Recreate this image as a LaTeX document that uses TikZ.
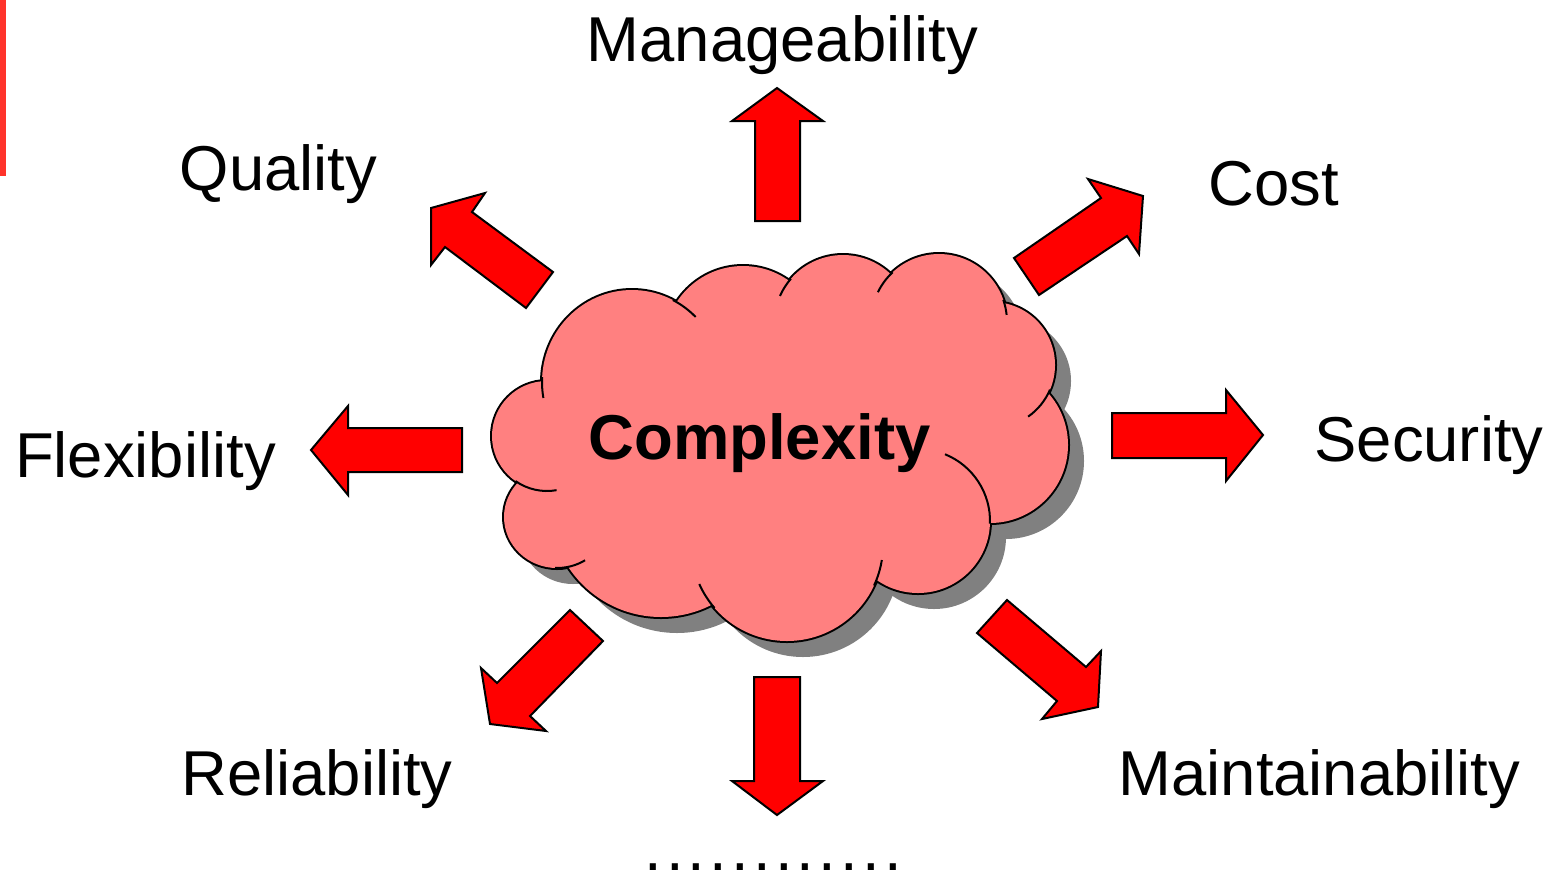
\documentclass[tikz,border=0pt]{standalone}
\usepackage{fontspec}
\setmainfont{Liberation Sans}
\definecolor{arrred}{RGB}{255,0,0}
\definecolor{cloudpink}{RGB}{255,128,128}
\definecolor{shadowgray}{RGB}{128,128,128}
\definecolor{barred}{RGB}{255,51,43}
\newcommand\cloudbumps{%
  (547,436) ellipse [x radius=55, y radius=55]
  (632,382) ellipse [x radius=90, y radius=92]
  (743,345) ellipse [x radius=79, y radius=79]
  (843,324) ellipse [x radius=69, y radius=69]
  (939,322) ellipse [x radius=68, y radius=68]
  (992,365) ellipse [x radius=63, y radius=63]
  (990,445) ellipse [x radius=78, y radius=78]
  (918,521) ellipse [x radius=72, y radius=72]
  (787,545) ellipse [x radius=96, y radius=96]
  (661,506) ellipse [x radius=111, y radius=111]
  (557,517) ellipse [x radius=53, y radius=51]}
\newcommand\cloudcore{%
  (547,436) -- (632,382) -- (743,345) -- (843,324) -- (939,322) -- (992,365)
  -- (990,445) -- (918,521) -- (787,545) -- (661,506) -- (557,517) -- cycle}
\newcommand\dotbox{\makebox[10.9pt]{.}}
\begin{document}
\begin{tikzpicture}[x=0.5pt,y=-0.5pt,
  arr/.style={fill=arrred,draw=black,line width=1pt,line join=miter},
  lbl/.style={font=\fontsize{31.7}{38}\selectfont,inner sep=0pt,anchor=base},
  hook/.style={draw=black,line width=1pt}]
\useasboundingbox (0,0) rectangle (1552,875);
\fill[barred] (0,0) rectangle (6,176);

% cloud shadow
\begin{scope}[shift={(16,16)}]
  \fill[shadowgray] \cloudbumps;
  \fill[shadowgray] \cloudcore;
\end{scope}
% cloud outline (outer half kept) and fill
\draw[black,line width=2pt] \cloudbumps;
\fill[cloudpink] \cloudbumps;
\fill[cloudpink] \cloudcore;
% inner hooks of the cloud
\draw[hook] (632,382) ++(183:90 and 92) arc[start angle=183, end angle=170, x radius=90, y radius=92];
\draw[hook] (547,436) ++(125:55) arc[start angle=125, end angle=80, radius=55];
\draw[hook] (557,517) ++(92:53 and 51) arc[start angle=92, end angle=58, x radius=53, y radius=51];
\draw[hook] (787,545) ++(139:96) arc[start angle=139, end angle=156, radius=96];
\draw[hook] (787,545) ++(25:96) arc[start angle=25, end angle=9, radius=96];
\draw[hook] (918,521) ++(-68:72) arc[start angle=-68, end angle=2, radius=72];
\draw[hook] (992,365) ++(23:63) arc[start angle=23, end angle=55, radius=63];
\draw[hook] (939,322) ++(-19:68) arc[start angle=-19, end angle=-6, radius=68];
\draw[hook] (939,322) ++(-133:68) arc[start angle=-133, end angle=-154, radius=68];
\draw[hook] (843,324) ++(-139:69) arc[start angle=-139, end angle=-156, radius=69];
\draw[hook] (632,382) ++(-63:90 and 92) arc[start angle=-63, end angle=-45, x radius=90, y radius=92];

\node[lbl,font=\fontsize{31.7}{38}\selectfont\bfseries] (cx) at (759.5,459) {Complexity};

% arrows
\draw[arr] (755,221) -- (755,121) -- (732,121) -- (777,88) -- (823,121) -- (800,121) -- (800,221) -- cycle;
\draw[arr] (754,677) -- (800,677) -- (800,781) -- (823,781) -- (777,815) -- (732,781) -- (754,781) -- cycle;
\draw[arr] (462,428) -- (462,472) -- (348,472) -- (348,495) -- (311,450) -- (348,406) -- (348,428) -- cycle;
\draw[arr] (1112,413) -- (1226,413) -- (1226,390) -- (1263,435) -- (1226,481) -- (1226,458) -- (1112,458) -- cycle;
\draw[arr] (431,208) -- (485,193) -- (472,212) -- (553,272) -- (526,308) -- (445,247) -- (431,265) -- cycle;
\draw[arr] (1143,196) -- (1139,254) -- (1127,236) -- (1039,295) -- (1014,258) -- (1101,198) -- (1088,179) -- cycle;
\draw[arr] (490,724) -- (481,668) -- (497,683) -- (570,610) -- (603,641) -- (530,716) -- (546,731) -- cycle;
\draw[arr] (1098,707) -- (1042,719) -- (1057,701) -- (977,633) -- (1007,600) -- (1086,667) -- (1101,651) -- cycle;

% labels
\node[lbl] (man) at (782.5,61) {Manageability};
\node[lbl] (qua) at (278.5,190) {Quality};
\node[lbl] (cos) at (1273.5,205) {Cost};
\node[lbl] (fle) at (145.5,477) {Flexibility};
\node[lbl] (sec) at (1429,461) {Security};
\node[lbl] (rel) at (317,795) {Reliability};
\node[lbl] (mai) at (1319.5,795) {Maintainability};
\node[lbl] (dots) at (773,870) {\raisebox{0pt}[\height][0pt]{\dotbox\dotbox\dotbox\dotbox\dotbox\dotbox\dotbox\dotbox\dotbox\dotbox\dotbox\dotbox}};
\end{tikzpicture}
\end{document}
